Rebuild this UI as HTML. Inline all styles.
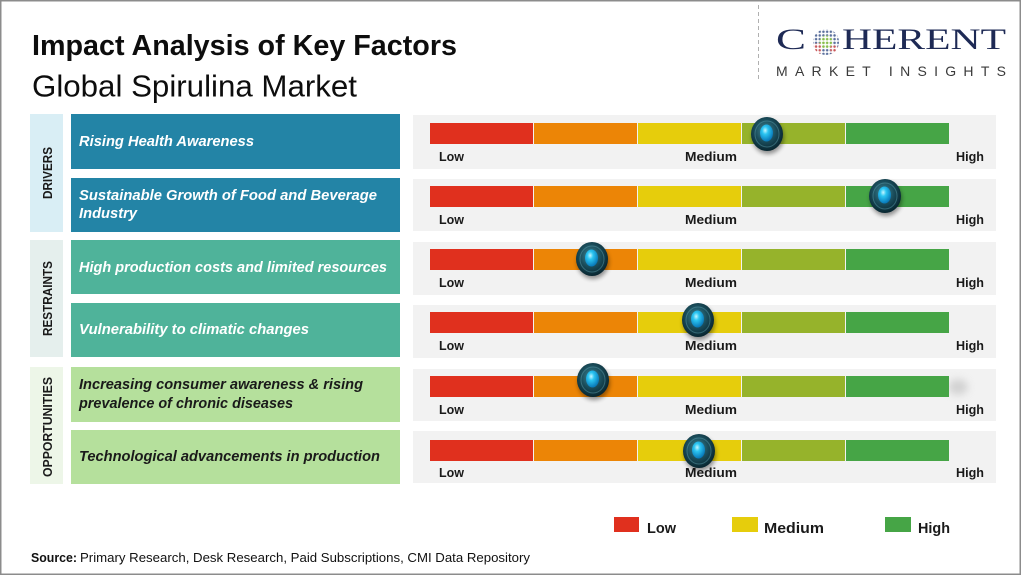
<!DOCTYPE html>
<html><head><meta charset="utf-8"><style>
html,body{margin:0;padding:0;background:#fff;}
svg{display:block;}
text{font-family:"Liberation Sans",Arial,sans-serif;}
</style></head><body>
<svg width="1024" height="576" viewBox="0 0 1024 576" xmlns="http://www.w3.org/2000/svg">
<defs>
  <radialGradient id="ko" cx="45%" cy="40%" r="60%">
    <stop offset="0" stop-color="#3f8796"/>
    <stop offset="0.55" stop-color="#1a4c5a"/>
    <stop offset="1" stop-color="#082630"/>
  </radialGradient>
  <radialGradient id="ki" cx="40%" cy="35%" r="65%">
    <stop offset="0" stop-color="#c6f6ff"/>
    <stop offset="0.35" stop-color="#2cc6f2"/>
    <stop offset="1" stop-color="#0878b8"/>
  </radialGradient>
  <filter id="blur" x="-50%" y="-50%" width="200%" height="200%"><feGaussianBlur stdDeviation="2"/></filter>
  <filter id="blur4" x="-50%" y="-50%" width="200%" height="200%"><feGaussianBlur stdDeviation="4"/></filter>
  <g id="knob">
    <ellipse cx="1" cy="3" rx="16" ry="17" fill="#000" opacity="0.4" filter="url(#blur)"/>
    <ellipse cx="0" cy="0" rx="16" ry="17" fill="url(#ko)"/>
    <ellipse cx="0" cy="0" rx="12" ry="13" fill="none" stroke="#5a9aa8" stroke-width="1" opacity="0.5"/>
    <ellipse cx="-0.5" cy="-1" rx="6.5" ry="8.5" fill="url(#ki)"/>
  </g>
  <g id="bar">
    <rect x="430" y="0" width="103" height="21" fill="#e0301e"/>
    <rect x="534" y="0" width="103" height="21" fill="#ec8506"/>
    <rect x="638" y="0" width="103" height="21" fill="#e6cd0c"/>
    <rect x="742" y="0" width="103" height="21" fill="#96b32b"/>
    <rect x="846" y="0" width="103" height="21" fill="#46a546"/>
  </g>
  <pattern id="pb" width="3.7" height="3.7" patternUnits="userSpaceOnUse" x="0.2" y="0.3">
    <circle cx="1.85" cy="1.85" r="1.25" fill="#5a6f9c"/>
  </pattern>
  <pattern id="pg" width="3.7" height="3.7" patternUnits="userSpaceOnUse" x="0.2" y="0.3">
    <circle cx="1.85" cy="1.85" r="1.3" fill="#86bd4a"/>
  </pattern>
  <pattern id="pr" width="3.7" height="3.7" patternUnits="userSpaceOnUse" x="0.2" y="0.3">
    <circle cx="1.85" cy="1.85" r="1.25" fill="#c9585a"/>
  </pattern>
</defs>

<!-- frame -->
<rect x="0.75" y="0.75" width="1019.5" height="573.5" fill="#fff" stroke="#8c8c8c" stroke-width="1.5"/>

<!-- title -->
<text x="32" y="55" font-size="28.5" font-weight="bold" fill="#0d0d0d" textLength="425" lengthAdjust="spacingAndGlyphs">Impact Analysis of Key Factors</text>
<text x="32" y="96.5" font-size="31" fill="#0d0d0d" textLength="325" lengthAdjust="spacingAndGlyphs">Global Spirulina Market</text>

<!-- logo -->
<line x1="758.5" y1="5" x2="758.5" y2="80" stroke="#b0b0b0" stroke-width="1" stroke-dasharray="4 3"/>
<text x="776" y="49" font-family="Liberation Serif, serif" font-size="30" fill="#1e2a55" textLength="30" lengthAdjust="spacingAndGlyphs" style="font-family:'Liberation Serif',serif">C</text>
<circle cx="826" cy="42" r="13" fill="url(#pb)"/>
<path d="M826 42 L813 44 A13 13 0 0 0 820 54 Z" fill="#fff"/>
<path d="M826 42 L813 44 A13 13 0 0 0 820 54 Z" fill="url(#pr)"/>
<path d="M826 42 L838 47 A13 13 0 0 1 832 54 Z" fill="#fff"/>
<path d="M826 42 L838 47 A13 13 0 0 1 832 54 Z" fill="url(#pr)"/>
<circle cx="826" cy="42" r="6.5" fill="#fff"/>
<circle cx="826" cy="42" r="6.5" fill="url(#pg)"/>
<text x="842" y="49" font-size="30" fill="#1e2a55" textLength="164" lengthAdjust="spacingAndGlyphs" style="font-family:'Liberation Serif',serif">HERENT</text>
<text x="776" y="76" font-size="14" fill="#3a3a3a" textLength="230" lengthAdjust="spacing">MARKET INSIGHTS</text>

<!-- category columns -->
<rect x="30" y="114" width="33" height="118" fill="#d9eef5"/>
<rect x="30" y="240" width="33" height="117" fill="#e5efed"/>
<rect x="30" y="367" width="33" height="117" fill="#edf6e8"/>
<text transform="translate(52,173) rotate(-90)" text-anchor="middle" font-size="12.5" font-weight="bold" fill="#1a1a1a" textLength="52" lengthAdjust="spacingAndGlyphs">DRIVERS</text>
<text transform="translate(52,298.5) rotate(-90)" text-anchor="middle" font-size="12.5" font-weight="bold" fill="#1a1a1a" textLength="75" lengthAdjust="spacingAndGlyphs">RESTRAINTS</text>
<text transform="translate(52,427) rotate(-90)" text-anchor="middle" font-size="12.5" font-weight="bold" fill="#1a1a1a" textLength="100" lengthAdjust="spacingAndGlyphs">OPPORTUNITIES</text>

<!-- item boxes -->
<rect x="71" y="114" width="329" height="55" fill="#2384a6"/>
<rect x="71" y="178" width="329" height="54" fill="#2384a6"/>
<rect x="71" y="240" width="329" height="54" fill="#4fb39a"/>
<rect x="71" y="303" width="329" height="54" fill="#4fb39a"/>
<rect x="71" y="367" width="329" height="55" fill="#b5e09c"/>
<rect x="71" y="430" width="329" height="54" fill="#b5e09c"/>

<g font-size="14.5" font-weight="bold" font-style="italic">
<text x="79" y="146" fill="#fff" textLength="175" lengthAdjust="spacingAndGlyphs">Rising Health Awareness</text>
<text x="79" y="200" fill="#fff" textLength="298" lengthAdjust="spacingAndGlyphs">Sustainable Growth of Food and Beverage</text>
<text x="79" y="218" fill="#fff" textLength="58" lengthAdjust="spacingAndGlyphs">Industry</text>
<text x="79" y="272" fill="#fff" textLength="308" lengthAdjust="spacingAndGlyphs">High production costs and limited resources</text>
<text x="79" y="334" fill="#fff" textLength="230" lengthAdjust="spacingAndGlyphs">Vulnerability to climatic changes</text>
<text x="79" y="389" fill="#1a1a1a" textLength="284" lengthAdjust="spacingAndGlyphs">Increasing consumer awareness &amp; rising</text>
<text x="79" y="408" fill="#1a1a1a" textLength="214" lengthAdjust="spacingAndGlyphs">prevalence of chronic diseases</text>
<text x="79" y="461" fill="#1a1a1a" textLength="301" lengthAdjust="spacingAndGlyphs">Technological advancements in production</text>
</g>

<!-- panels -->
<g fill="#f2f2f2">
<rect x="413" y="115" width="583" height="54"/>
<rect x="413" y="179" width="583" height="52"/>
<rect x="413" y="242" width="583" height="53"/>
<rect x="413" y="305" width="583" height="53"/>
<rect x="413" y="369" width="583" height="52"/>
<rect x="413" y="431" width="583" height="52"/>
</g>

<!-- bars -->
<use href="#bar" transform="translate(0,123)"/>
<use href="#bar" transform="translate(0,186)"/>
<use href="#bar" transform="translate(0,249)"/>
<use href="#bar" transform="translate(0,312)"/>
<ellipse cx="958" cy="387" rx="10" ry="8" fill="#bdbdbd" opacity="0.6" filter="url(#blur4)"/>
<use href="#bar" transform="translate(0,376)"/>
<use href="#bar" transform="translate(0,440)"/>

<!-- labels -->
<g font-size="13" font-weight="bold" fill="#1a1a1a">
<text x="439" y="161" textLength="25" lengthAdjust="spacingAndGlyphs">Low</text>
<text x="685" y="161" textLength="52" lengthAdjust="spacingAndGlyphs">Medium</text>
<text x="956" y="161" textLength="28" lengthAdjust="spacingAndGlyphs">High</text>
<text x="439" y="224" textLength="25" lengthAdjust="spacingAndGlyphs">Low</text>
<text x="685" y="224" textLength="52" lengthAdjust="spacingAndGlyphs">Medium</text>
<text x="956" y="224" textLength="28" lengthAdjust="spacingAndGlyphs">High</text>
<text x="439" y="287" textLength="25" lengthAdjust="spacingAndGlyphs">Low</text>
<text x="685" y="287" textLength="52" lengthAdjust="spacingAndGlyphs">Medium</text>
<text x="956" y="287" textLength="28" lengthAdjust="spacingAndGlyphs">High</text>
<text x="439" y="350" textLength="25" lengthAdjust="spacingAndGlyphs">Low</text>
<text x="685" y="350" textLength="52" lengthAdjust="spacingAndGlyphs">Medium</text>
<text x="956" y="350" textLength="28" lengthAdjust="spacingAndGlyphs">High</text>
<text x="439" y="414" textLength="25" lengthAdjust="spacingAndGlyphs">Low</text>
<text x="685" y="414" textLength="52" lengthAdjust="spacingAndGlyphs">Medium</text>
<text x="956" y="414" textLength="28" lengthAdjust="spacingAndGlyphs">High</text>
<text x="439" y="477" textLength="25" lengthAdjust="spacingAndGlyphs">Low</text>
<text x="685" y="477" textLength="52" lengthAdjust="spacingAndGlyphs">Medium</text>
<text x="956" y="477" textLength="28" lengthAdjust="spacingAndGlyphs">High</text>
</g>

<!-- knobs -->
<use href="#knob" transform="translate(767,134)"/>
<use href="#knob" transform="translate(885,196)"/>
<use href="#knob" transform="translate(592,259)"/>
<use href="#knob" transform="translate(698,320)"/>
<use href="#knob" transform="translate(593,380)"/>
<use href="#knob" transform="translate(699,451)"/>

<!-- legend -->
<rect x="614" y="517" width="25" height="15" fill="#e0301e"/>
<rect x="732" y="517" width="26" height="15" fill="#e6cd0c"/>
<rect x="885" y="517" width="26" height="15" fill="#46a546"/>
<g font-size="15" font-weight="bold" fill="#1a1a1a">
<text x="647" y="533" textLength="29" lengthAdjust="spacingAndGlyphs">Low</text>
<text x="764" y="533" textLength="60" lengthAdjust="spacingAndGlyphs">Medium</text>
<text x="918" y="533" textLength="32" lengthAdjust="spacingAndGlyphs">High</text>
</g>

<!-- source -->
<text x="31" y="562" font-size="12.5" font-weight="bold" fill="#111" textLength="46" lengthAdjust="spacingAndGlyphs">Source:</text>
<text x="80" y="562" font-size="12.5" fill="#111" textLength="450" lengthAdjust="spacingAndGlyphs">Primary Research, Desk Research, Paid Subscriptions, CMI Data Repository</text>
</svg>
</body></html>
